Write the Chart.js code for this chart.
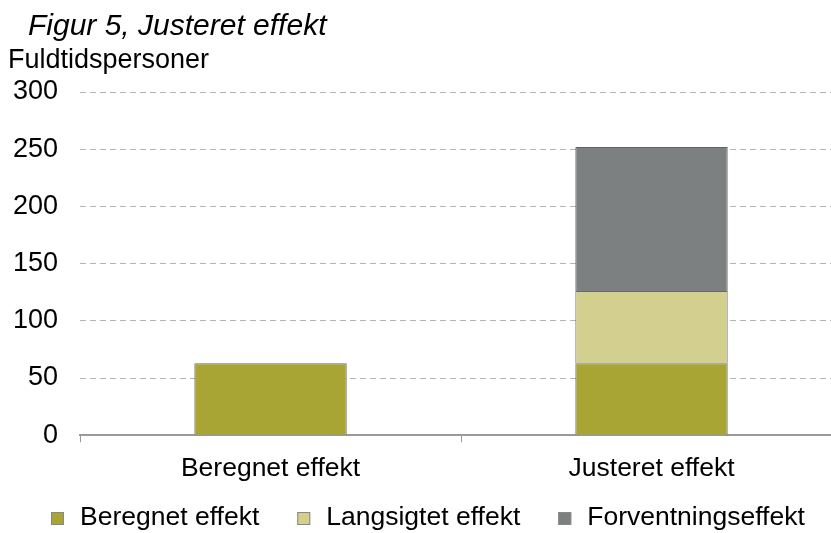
<!DOCTYPE html>
<html>
<head>
<meta charset="utf-8">
<script src="https://cdn.jsdelivr.net/npm/chart.js@4/dist/chart.umd.min.js"></script>
<style>
  html, body { margin: 0; padding: 0; background: #fff; overflow: hidden; }
  /* the plot runs past the right edge of the window, as in the source figure */
  #wrap { width: 842px; height: 533px; }
</style>
</head>
<body>
<div id="wrap"><canvas id="chart" width="842" height="533"></canvas></div>
<script>
// Data
const categories = ['Beregnet effekt', 'Justeret effekt'];
const beregnet = [63, 63];
const langsigtet = [null, 63];
const forventning = [null, 126];

const titleText = 'Figur 5, Justeret effekt';
const unitText = 'Fuldtidspersoner';

const FONT = '"Liberation Sans", Arial, Helvetica, sans-serif';

// Draws the figure heading and unit label in the top-left corner
const headingPlugin = {
    id: 'heading',
    afterDraw(chart) {
        const ctx = chart.ctx;
        ctx.save();
        ctx.fillStyle = '#000';
        ctx.textBaseline = 'alphabetic';
        ctx.textAlign = 'left';
        ctx.font = 'italic 30px ' + FONT;
        ctx.fillText(titleText, 28, 35);
        ctx.font = '27px ' + FONT;
        ctx.fillText(unitText, 8, 68);
        ctx.restore();
    }
};

// Legend row under the axis, built from the datasets (wider gaps than Chart.js allows)
const legendRowPlugin = {
    id: 'legendRow',
    afterDraw(chart) {
        const ctx = chart.ctx;
        const sets = chart.data.datasets;
        const box = 13, textGap = 16, itemGap = 38, y = 518, center = 427.5;
        ctx.save();
        ctx.font = '26.5px ' + FONT;
        const widths = sets.map(ds => ctx.measureText(ds.label).width);
        const total = widths.reduce((a, w) => a + box + textGap + w, 0) + itemGap * (sets.length - 1);
        let x = Math.round(center - total / 2);
        sets.forEach((ds, i) => {
            ctx.fillStyle = ds.backgroundColor;
            ctx.fillRect(x, y - 6, box, box);
            ctx.strokeStyle = '#888';
            ctx.lineWidth = 1;
            ctx.strokeRect(x + 0.5, y - 6 + 0.5, box - 1, box - 1);
            ctx.fillStyle = '#000';
            ctx.textBaseline = 'middle';
            ctx.fillText(ds.label, x + box + textGap, y);
            x += box + textGap + widths[i] + itemGap;
        });
        ctx.restore();
    }
};

new Chart(document.getElementById('chart').getContext('2d'), {
    type: 'bar',
    data: {
        labels: categories,
        datasets: [
            {
                label: 'Beregnet effekt',
                data: beregnet,
                backgroundColor: '#a9a535',
                borderColor: '#6a6a6a',
                borderWidth: 1
            },
            {
                label: 'Langsigtet effekt',
                data: langsigtet,
                backgroundColor: '#d2cf8f',
                borderColor: '#6a6a6a',
                borderWidth: 1
            },
            {
                label: 'Forventningseffekt',
                data: forventning,
                backgroundColor: '#7d8080',
                borderColor: '#606464',
                borderWidth: 1
            }
        ]
    },
    options: {
        responsive: false,
        animation: false,
        layout: { padding: { top: 92, right: 0, left: -9, bottom: 37 } },
        datasets: {
            bar: { barPercentage: 1, categoryPercentage: 0.40 }
        },
        scales: {
            x: {
                stacked: true,
                grid: {
                    offset: true,
                    drawOnChartArea: false,
                    drawTicks: true,
                    tickLength: 7,
                    color: '#999'
                },
                border: { display: true, color: '#999', width: 2 },
                ticks: {
                    color: '#000',
                    font: { family: FONT, size: 26.5 },
                    padding: 11
                }
            },
            y: {
                stacked: true,
                min: 0,
                max: 300,
                ticks: {
                    stepSize: 50,
                    color: '#000',
                    font: { family: FONT, size: 27 },
                    padding: 22
                },
                grid: {
                    drawTicks: false,
                    color: '#b3b3b3',
                    lineWidth: 1
                },
                border: { display: false, dash: [6, 4] }
            }
        },
        plugins: {
            legend: { display: false },
            tooltip: { enabled: false }
        }
    },
    plugins: [headingPlugin, legendRowPlugin]
});
</script>
</body>
</html>
